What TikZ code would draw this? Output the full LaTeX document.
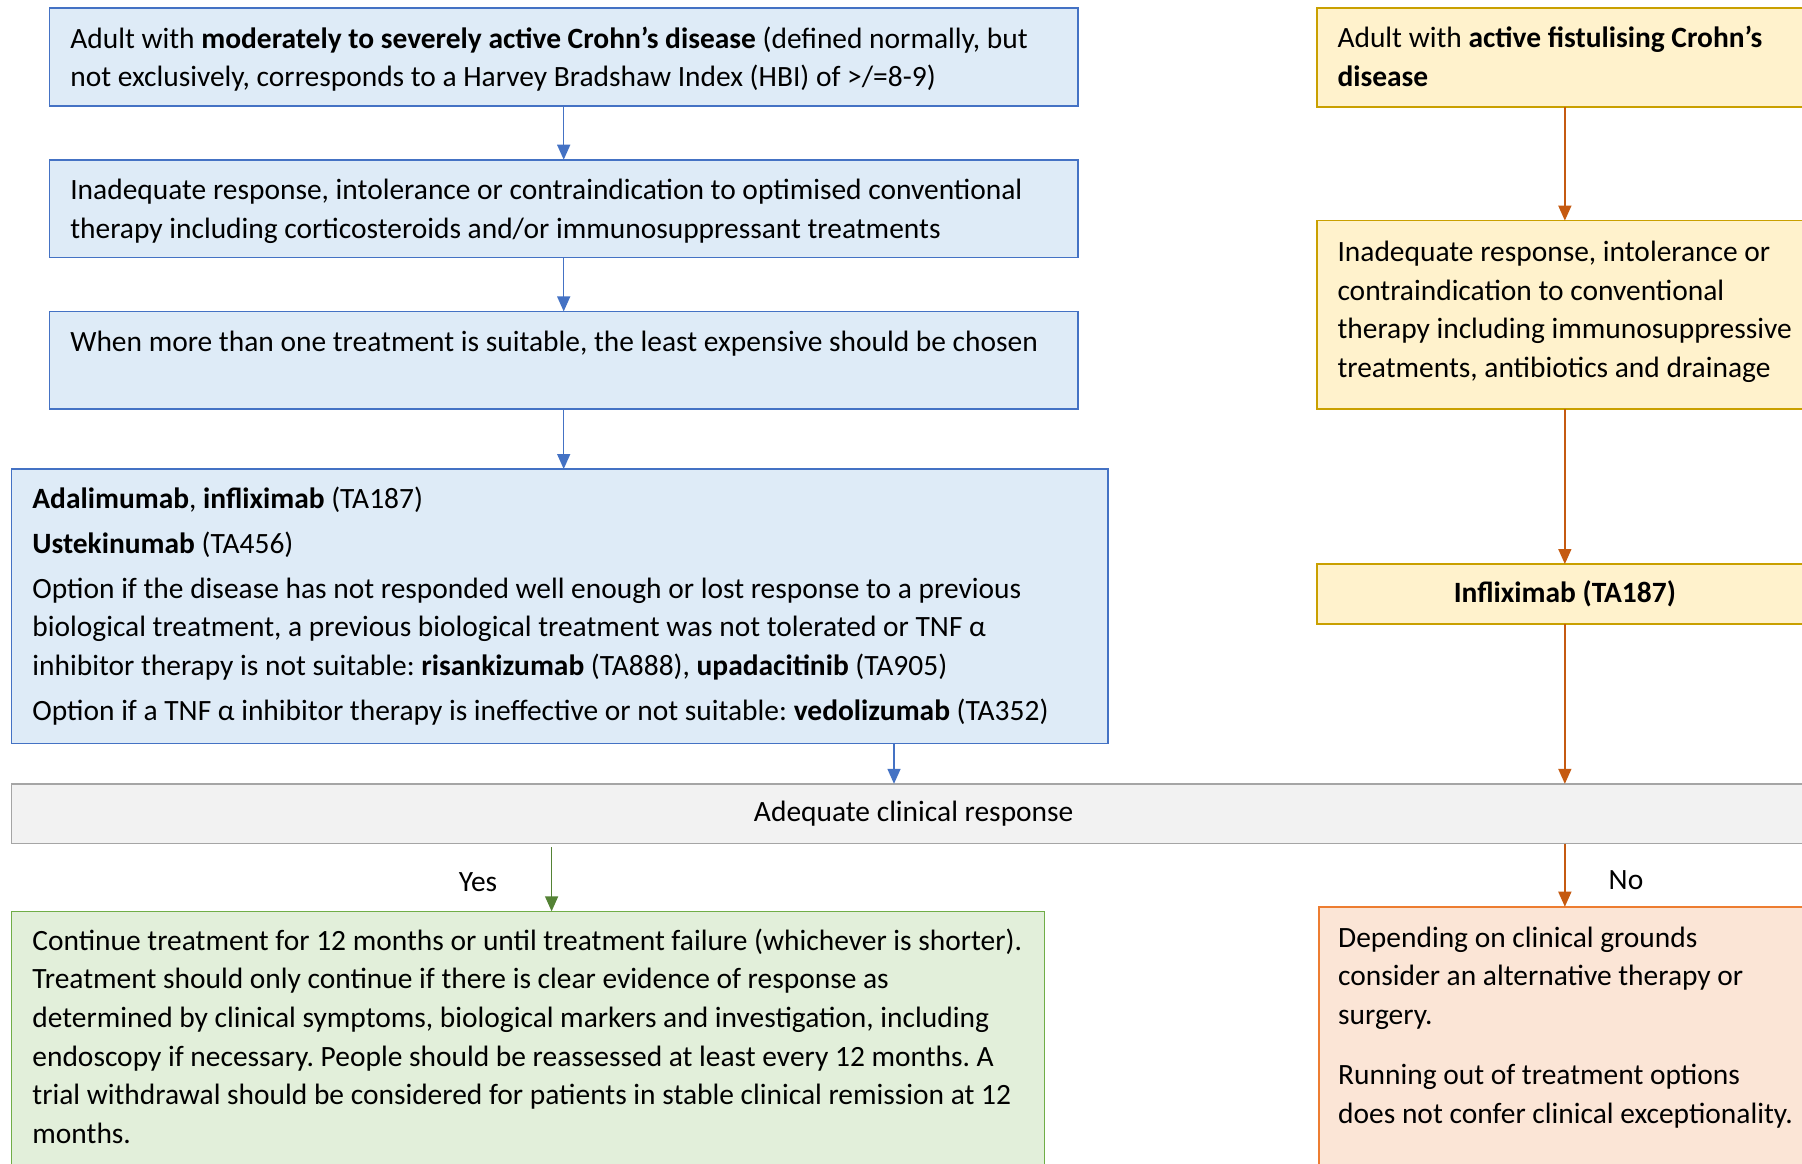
\documentclass[tikz,border=0pt]{standalone}
\usepackage{fontspec}
\setmainfont{Carlito}
\usetikzlibrary{arrows.meta}
\frenchspacing
\definecolor{bfill}{HTML}{DEEBF7}
\definecolor{bdraw}{HTML}{4472C4}
\definecolor{yfill}{HTML}{FFF2CC}
\definecolor{ydraw}{HTML}{C9A000}
\definecolor{oarrow}{HTML}{C55A11}
\definecolor{gfill}{HTML}{F2F2F2}
\definecolor{gdraw}{HTML}{A5A5A5}
\definecolor{grfill}{HTML}{E2EFDA}
\definecolor{grdraw}{HTML}{70AD47}
\definecolor{grarrow}{HTML}{548235}
\definecolor{pfill}{HTML}{FBE5D6}
\definecolor{pdraw}{HTML}{ED7D31}
\newcommand{\fstrut}{\rule{0pt}{25pt}}
\begin{document}
\frenchspacing
\begin{tikzpicture}[x=1pt,y=-1pt,
  basebox/.style={rectangle, anchor=north west, outer sep=0pt, inner sep=0pt, line width=1.6pt},
  bluebox/.style={basebox, fill=bfill, draw=bdraw},
  yelbox/.style={basebox, fill=yfill, draw=ydraw},
  graybox/.style={basebox, fill=gfill, draw=gdraw},
  greenbox/.style={basebox, fill=grfill, draw=grdraw},
  pinkbox/.style={basebox, fill=pfill, draw=pdraw},
  txt/.style={anchor=north west, inner sep=0pt, align=left, font=\fontsize{29.45}{38.7}\selectfont},
  ctxt/.style={font=\fontsize{29.45}{38.7}\selectfont},
  arr/.style={line width=1.5pt, -{Triangle[width=13pt,length=15pt]}},
  barrow/.style={arr, draw=bdraw, color=bdraw},
  oarr/.style={arr, draw=oarrow, color=oarrow},
  garr/.style={arr, draw=grarrow, color=grarrow}
]
\clip (0,0) rectangle (1802,1163);
\fill[white] (0,0) rectangle (1802,1163);

% left column boxes
\node[bluebox, minimum width=1028.6pt, minimum height=97.7pt] (b1) at (49.4,8) {};
\node[bluebox, minimum width=1028.6pt, minimum height=97.7pt] (b2) at (49.4,159.7) {};
\node[bluebox, minimum width=1028.6pt, minimum height=97.6pt] (b3) at (49.4,311.4) {};
\node[bluebox, minimum width=1096.5pt, minimum height=274.5pt] (b4) at (11.5,469) {};
\node[graybox, minimum width=1804.5pt, minimum height=59.7pt] (gr) at (11.5,783.8) {};
\node[greenbox, minimum width=1033pt, minimum height=300pt] (gn) at (11.5,911.3) {};

% right column boxes
\node[yelbox, minimum width=496.3pt, minimum height=99pt] (y1) at (1316.7,8) {};
\node[yelbox, minimum width=496.3pt, minimum height=188.4pt] (y2) at (1316.7,220.6) {};
\node[yelbox, minimum width=496.3pt, minimum height=60pt, ctxt] (y3) at (1316.7,564) {\textbf{Infliximab (TA187)}};
\node[pinkbox, minimum width=494pt, minimum height=300pt] (pk) at (1319,906.7) {};

% texts
\node[txt] (t1) at (70.1,23) {\fstrut Adult with \textbf{moderately to severely active Crohn’s disease} (defined normally, but\\
not exclusively, corresponds to a Harvey Bradshaw Index (HBI) of >/=8-9)};
\node[txt] (t2) at (70.1,174.7) {\fstrut Inadequate response, intolerance or contraindication to optimised conventional\\
therapy including corticosteroids and/or immunosuppressant treatments};
\node[txt] (t3) at (70.1,326.4) {\fstrut When more than one treatment is suitable, the least expensive should be chosen};
\node[txt] (t4) at (32.2,483.5) {\fstrut \textbf{Adalimumab}, \textbf{infliximab} (TA187)\\[6pt]
\textbf{Ustekinumab} (TA456)\\[6pt]
Option if the disease has not responded well enough or lost response to a previous\\
biological treatment, a previous biological treatment was not tolerated or TNF α\\
inhibitor therapy is not suitable: \textbf{risankizumab} (TA888), \textbf{upadacitinib} (TA905)\\[6pt]
Option if a TNF α inhibitor therapy is ineffective or not suitable: \textbf{vedolizumab} (TA352)};
\node[ctxt] (tg) at (913.7,814) {Adequate clinical response};
\node[txt] (t5) at (32.2,924.8) {\fstrut Continue treatment for 12 months or until treatment failure (whichever is shorter).\\
Treatment should only continue if there is clear evidence of response as\\
determined by clinical symptoms, biological markers and investigation, including\\
endoscopy if necessary. People should be reassessed at least every 12 months. A\\
trial withdrawal should be considered for patients in stable clinical remission at 12\\
months.};
\node[txt] (ty1) at (1337.3,22.5) {\fstrut Adult with \textbf{active fistulising Crohn’s}\\
\textbf{disease}};
\node[txt] (ty2) at (1337.3,236.3) {\fstrut Inadequate response, intolerance or\\
contraindication to conventional\\
therapy including immunosuppressive\\
treatments, antibiotics and drainage};
\node[txt] (tp) at (1338,922) {\fstrut Depending on clinical grounds\\
consider an alternative therapy or\\
surgery.\\[21pt]
Running out of treatment options\\
does not confer clinical exceptionality.};
\node[ctxt] (yes) at (478,882.5) {Yes};
\node[ctxt] (no) at (1626,880.5) {No};

% connectors
\coordinate (cx1) at (894,0);
\coordinate (cx2) at (551.6,0);
\draw[barrow] (b1.south) -- (b2.north);
\draw[barrow] (b2.south) -- (b3.north);
\draw[barrow] (b3.south) -- (b3.south |- b4.north);
\draw[barrow] (b4.south -| cx1) -- (gr.north -| cx1);
\draw[garr, shorten <=3.5pt] (gr.south -| cx2) -- (gn.north -| cx2);
\draw[oarr] (y1.south) -- (y2.north);
\draw[oarr] (y2.south) -- (y3.north);
\draw[oarr] (y3.south) -- (y3.south |- gr.north);
\draw[oarr] (y3.south |- gr.south) -- (y3.south |- pk.north);
\end{tikzpicture}
\end{document}
